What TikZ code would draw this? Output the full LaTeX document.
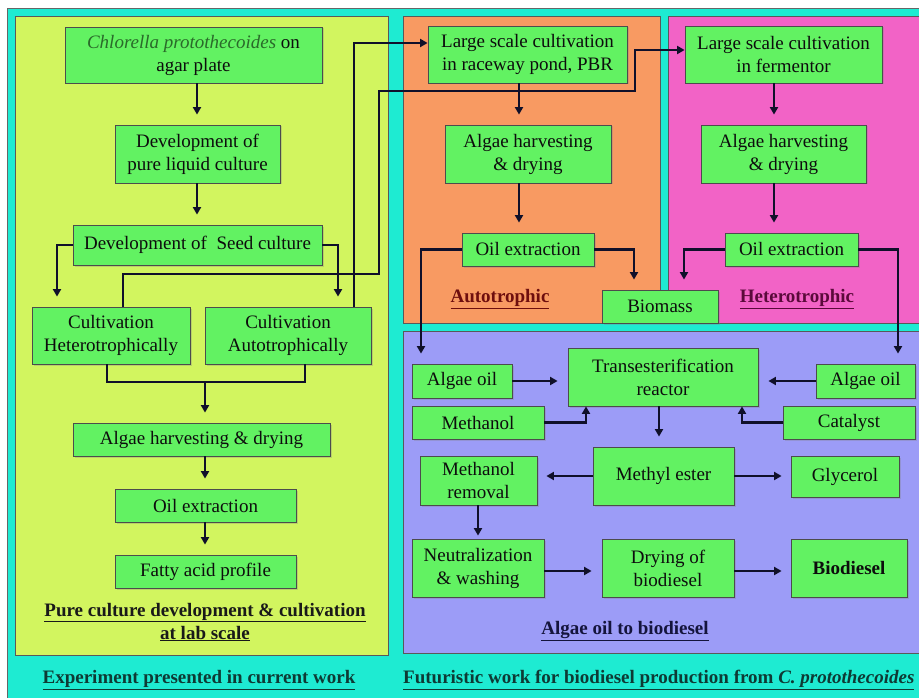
\documentclass[tikz,border=0pt]{standalone}
\usepackage{fontspec}
\setmainfont{Liberation Serif}
\usetikzlibrary{arrows.meta,shadows}
\definecolor{bgcyan}{HTML}{1EEBD2}
\definecolor{panelyellow}{HTML}{D2F55F}
\definecolor{panelorange}{HTML}{F89A62}
\definecolor{panelpink}{HTML}{F263C6}
\definecolor{panelblue}{HTML}{9C9CF7}
\definecolor{boxgreen}{HTML}{62F262}
\definecolor{linedark}{HTML}{10102A}
\definecolor{italgreen}{HTML}{2A6A2A}
\definecolor{titleteal}{HTML}{0E3A34}
\definecolor{autored}{HTML}{6E0E0E}
\definecolor{hetpurple}{HTML}{5A0A3A}
\definecolor{bluetitle}{HTML}{14143C}
\tikzset{
  panel/.style={draw=black!65, line width=1pt},
  box/.style={draw=black!70, line width=0.8pt, fill=boxgreen, inner sep=0pt, align=center,
    font=\fontsize{19}{23}\selectfont, text=black!95,
    drop shadow={shadow xshift=1.5pt, shadow yshift=-1.5pt, opacity=0.3}},
  lbl/.style={font=\fontsize{19}{23}\selectfont\bfseries, align=center, inner sep=0pt},
  conn/.style={draw=linedark, line width=2.6pt},
  arr/.style={conn, -{Triangle[length=7.5pt,width=8pt]}},
}
\begin{document}
\begin{tikzpicture}[x=1pt,y=-1pt]
\useasboundingbox (0,0) rectangle (919,698);
\fill[white] (0,0) rectangle (919,698);
\filldraw[fill=bgcyan, draw=black!60, line width=0.9pt] (7,8) rectangle (930,710);
% panels
\filldraw[panel, fill=panelyellow] (15,17) rectangle (388,655);
\filldraw[panel, fill=panelorange] (403,17) rectangle (660,323);
\filldraw[panel, fill=panelpink] (668,17) rectangle (930,323);
\filldraw[panel, fill=panelblue] (403,331) rectangle (930,653);

% left panel nodes
\node[box, minimum width=257pt, minimum height=56pt] (agar) at (193.5,55)
  {{\itshape\color{italgreen}Chlorella protothecoides} on\\agar plate};
\node[box, minimum width=165pt, minimum height=58pt] (liquid) at (197.5,154)
  {Development of\\pure liquid culture};
\node[box, minimum width=249pt, minimum height=40pt] (seed) at (197.5,245)
  {Development of\ \ Seed culture};
\node[box, minimum width=158pt, minimum height=57pt] (het) at (111,335.5)
  {Cultivation\\Heterotrophically};
\node[box, minimum width=166pt, minimum height=57pt] (auto) at (288,335.5)
  {Cultivation\\Autotrophically};
\node[box, minimum width=257pt, minimum height=33pt] (harvL) at (201.5,439.5)
  {Algae harvesting \& drying};
\node[box, minimum width=181pt, minimum height=33pt] (oilL) at (205.5,505.5)
  {Oil extraction};
\node[box, minimum width=181pt, minimum height=33pt] (fatty) at (205.5,571.5)
  {Fatty acid profile};
\node[lbl, text=black!90] (labtitle) at (205,622)
  {\underline{Pure culture development \& cultivation}\\\underline{at lab scale}};
\node[lbl, text=titleteal] (exptitle) at (199,680)
  {\underline{Experiment presented in current work}};

% orange panel
\node[box, minimum width=199pt, minimum height=57pt] (raceway) at (527.5,54.5)
  {Large scale cultivation\\in raceway pond, PBR};
\node[box, minimum width=166pt, minimum height=58pt] (harvA) at (528,154)
  {Algae harvesting\\\& drying};
\node[box, minimum width=132pt, minimum height=33pt] (oilA) at (528,249.5)
  {Oil extraction};
\node[lbl, text=autored] (autolbl) at (500,299) {\underline{Autotrophic}};

% pink panel
\node[box, minimum width=197pt, minimum height=57pt] (ferm) at (783.5,54.5)
  {Large scale cultivation\\in fermentor};
\node[box, minimum width=165pt, minimum height=58pt] (harvH) at (783.5,154)
  {Algae harvesting\\\& drying};
\node[box, minimum width=133pt, minimum height=33pt] (oilH) at (791.5,249.5)
  {Oil extraction};
\node[lbl, text=hetpurple] (hetlbl) at (797,299) {\underline{Heterotrophic}};

\node[box, minimum width=116pt, minimum height=33pt] (biomass) at (660,306.5)
  {Biomass};

% blue panel
\node[box, minimum width=100pt, minimum height=34pt] (algaeL) at (462,381) {Algae oil};
\node[box, minimum width=132pt, minimum height=33pt] (methanol) at (478,422.5) {Methanol};
\node[box, minimum width=190pt, minimum height=58pt] (reactor) at (663,377)
  {Transesterification\\reactor};
\node[box, minimum width=99pt, minimum height=34pt] (algaeR) at (865.5,381) {Algae oil};
\node[box, minimum width=132pt, minimum height=33pt] (catalyst) at (849,422.5) {Catalyst};
\node[box, minimum width=117pt, minimum height=49pt] (mremoval) at (478.5,480.5)
  {Methanol\\removal};
\node[box, minimum width=141pt, minimum height=58pt] (mester) at (663.5,476) {Methyl ester};
\node[box, minimum width=108pt, minimum height=41pt] (glycerol) at (845,476.5) {Glycerol};
\node[box, minimum width=132pt, minimum height=58pt] (neutral) at (478,568)
  {Neutralization\\\& washing};
\node[box, minimum width=132pt, minimum height=58pt] (drying) at (668,568)
  {Drying of\\biodiesel};
\node[box, minimum width=116pt, minimum height=58pt, font=\fontsize{19}{23}\selectfont\bfseries] (biodiesel) at (849,568)
  {Biodiesel};
\node[lbl, text=bluetitle] (bluetitle) at (625,631) {\underline{Algae oil to biodiesel}};
\node[lbl, text=titleteal, anchor=west] (futtitle) at (403,680)
  {\underline{Futuristic work for biodiesel production from \textit{C. protothecoides}}};

% left panel connectors
\draw[arr, shorten >=10pt] (agar.south -| 197,0) -- (liquid.north -| 197,0);
\draw[arr, shorten >=10pt] (liquid.south -| 197,0) -- (seed.north -| 197,0);
\draw[arr, shorten >=10pt] (seed.west) -| (het.north -| 57,0);
\draw[arr, shorten >=10pt] (seed.east) -| (auto.north -| 338,0);
\coordinate (merge) at (205,382);
\draw[conn] (het.south -| 107,0) |- (merge) -| (auto.south -| 305,0);
\draw[arr, shorten >=10pt] (merge) -- (harvL.north -| merge);
\draw[arr, shorten >=10pt] (harvL.south -| 205,0) -- (oilL.north -| 205,0);
\draw[arr, shorten >=10pt] (oilL.south -| 205,0) -- (fatty.north -| 205,0);

% long connectors
\draw[arr] (auto.north -| 354,0) -- (354,43) -- (raceway.west |- 0,43);
\draw[arr] (het.north -| 123,0) -- (123,274) -- (379,274) -- (379,91) -- (635,91) -- (635,50) -- (ferm.west |- 0,50);

% orange connectors
\draw[arr, shorten >=10pt] (raceway.south -| 519,0) -- (harvA.north -| 519,0);
\draw[arr, shorten >=10pt] (harvA.south -| 519,0) -- (oilA.north -| 519,0);
\draw[arr, shorten >=10pt] (oilA.west) -| (algaeL.north -| 421,0);
\draw[arr, shorten >=10pt] (oilA.east) -| (biomass.north -| 634,0);

% pink connectors
\draw[arr, shorten >=10pt] (ferm.south -| 774,0) -- (harvH.north -| 774,0);
\draw[arr, shorten >=10pt] (harvH.south -| 774,0) -- (oilH.north -| 774,0);
\draw[arr, shorten >=10pt] (oilH.west) -| (biomass.north -| 684,0);
\draw[arr, shorten >=10pt] (oilH.east) -| (algaeR.north -| 898,0);

% blue connectors
\draw[arr, shorten >=10pt] (algaeL.east) -- (reactor.west |- algaeL.east);
\draw[arr] (methanol.east) -| (reactor.south -| 586,0);
\draw[arr, shorten >=10pt] (reactor.south -| 659,0) -- (mester.north -| 659,0);
\draw[arr, shorten >=10pt] (algaeR.west) -- (reactor.east |- algaeR.west);
\draw[arr] (catalyst.west) -| (reactor.south -| 742,0);
\draw[arr, shorten >=9pt] (mester.west) -- (mremoval.east |- mester.west);
\draw[arr, shorten >=9pt] (mester.east) -- (glycerol.west |- mester.east);
\draw[arr, shorten >=3pt] (mremoval.south -| 478,0) -- (neutral.north -| 478,0);
\draw[arr, shorten >=10pt] (neutral.east |- 0,571) -- (drying.west |- 0,571);
\draw[arr, shorten >=9pt] (drying.east |- 0,571) -- (biodiesel.west |- 0,571);
\end{tikzpicture}
\end{document}
